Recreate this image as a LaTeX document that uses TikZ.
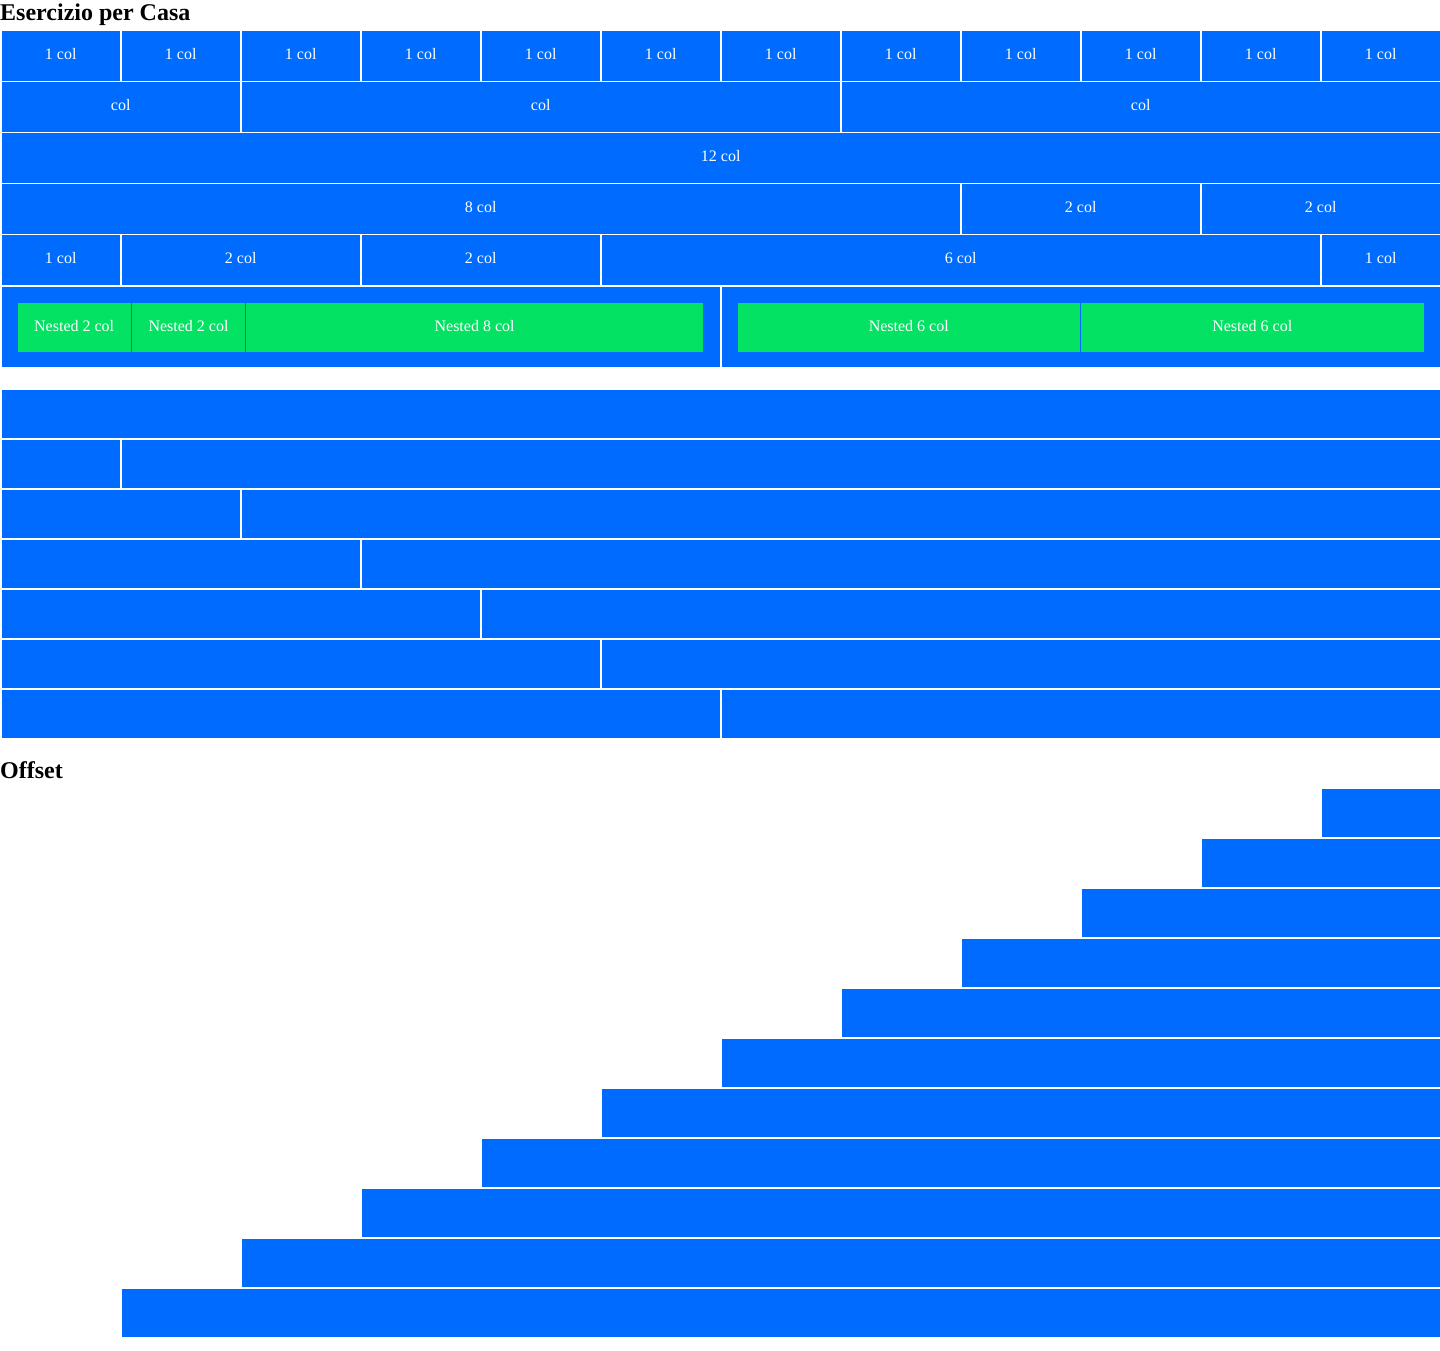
\documentclass[tikz,border=0pt]{standalone}
\usepackage{fontspec}
\setmainfont{Liberation Serif}
\definecolor{cblue}{HTML}{006CFF}
\definecolor{cgreen}{HTML}{03E263}
\begin{document}
\begin{tikzpicture}[x=1pt,y=-1pt,
  cell/.style={fill=cblue, draw=white, line width=1.5pt, inner sep=0pt, anchor=north west,
    text=white, text depth=3pt, font=\fontsize{16}{19}\selectfont},
  ncell/.style={fill=cgreen, draw=cblue, line width=1pt, inner sep=0pt, anchor=north west,
    text=white, text depth=3pt, font=\fontsize{16}{19}\selectfont},
  heading/.style={anchor=base west, inner sep=0pt, font=\bfseries\fontsize{24}{28}\selectfont}]
\useasboundingbox (0,0) rectangle (1440,1350);

\node[heading] (title) at (0,20) {Esercizio per Casa};

% row 1: twelve 1-col cells
\foreach \i in {0,...,11}
  \node[cell, minimum width=120pt, minimum height=51pt] (ra\i) at (\i*120,29.5) {1 col};

% row 2
\foreach \x/\w/\n in {0/240/a, 240/600/b, 840/600/c}
  \node[cell, minimum width=\w pt, minimum height=51pt] (rb\n) at (\x,80.5) {col};

% row 3
\node[cell, minimum width=1440pt, minimum height=51pt] (rc) at (0,131.5) {12 col};

% row 4
\foreach \x/\w/\t/\n in {0/960/8 col/a, 960/240/2 col/b, 1200/240/2 col/c}
  \node[cell, minimum width=\w pt, minimum height=51pt] (rd\n) at (\x,182.5) {\t};

% row 5
\foreach \x/\w/\t/\n in {0/120/1 col/a, 120/240/2 col/b, 360/240/2 col/c, 600/720/6 col/d, 1320/120/1 col/e}
  \node[cell, minimum width=\w pt, minimum height=51pt] (re\n) at (\x,233.5) {\t};

% nested row
\node[cell, minimum width=720pt, minimum height=82pt] (nl) at (0,285) {};
\node[cell, minimum width=720pt, minimum height=82pt] (nr) at (720,285) {};
\foreach \x/\w/\t/\n in {16.5/114.33/Nested 2 col/a, 130.83/114.33/Nested 2 col/b, 245.17/457.83/Nested 8 col/c}
  \node[ncell, minimum width=\w pt, minimum height=50pt] (ng\n) at (\x,301.5) {\t};
\foreach \x/\w/\t/\n in {736.5/343.5/Nested 6 col/a, 1080/343.5/Nested 6 col/b}
  \node[ncell, minimum width=\w pt, minimum height=50pt] (nh\n) at (\x,301.5) {\t};

% second section
\node[cell, minimum width=1440pt, minimum height=50pt] (s0) at (0,388) {};
\foreach \k in {1,...,6} {
  \node[cell, minimum width=\k*120pt, minimum height=50pt] (sl\k) at (0,388+\k*50) {};
  \node[cell, minimum width=1440pt-\k*120pt, minimum height=50pt] (sr\k) at (\k*120,388+\k*50) {};
}

% offset
\node[heading] (offset) at (0,778) {Offset};
\foreach \k [count=\j from 0] in {11,10,...,1}
  \node[cell, minimum width=1440pt-\k*120pt, minimum height=50pt] (o\k) at (\k*120,787+\j*50) {};
\end{tikzpicture}
\end{document}
